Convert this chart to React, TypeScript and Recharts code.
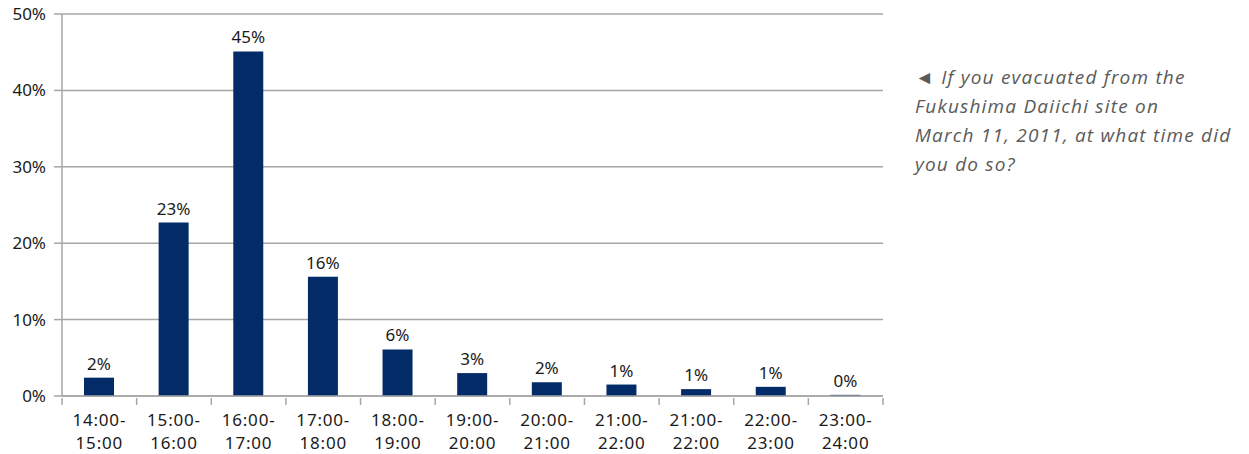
import React from 'react';
import { BarChart, Bar, XAxis, YAxis, CartesianGrid, LabelList } from 'recharts';

const categories = ['14:00-15:00', '15:00-16:00', '16:00-17:00', '17:00-18:00', '18:00-19:00', '19:00-20:00', '20:00-21:00', '21:00-22:00', '21:00-22:00', '22:00-23:00', '23:00-24:00'];
const values = [2.4, 22.7, 45.1, 15.6, 6.1, 3.0, 1.8, 1.5, 0.9, 1.2, 0.15];
const valueLabels = ['2%', '23%', '45%', '16%', '6%', '3%', '2%', '1%', '1%', '1%', '0%'];
const yTicks = [0, 10, 20, 30, 40, 50];

const data = categories.map((c, i) => ({ idx: i, cat: c, value: values[i], label: valueLabels[i] }));

const FONT = '"Noto Sans", "DejaVu Sans", sans-serif';
const GRID = '#A6A6A6';

const XTick = (props: any) => {
  const { x, y, payload, index } = props;
  const half = payload.offset || 37.3;
  const [a, b] = String(categories[payload.value] ?? '').split('-');
  const isLast = index === categories.length - 1;
  return (
    <g>
      <line x1={x - half} x2={x - half} y1={y - 8} y2={y - 1} stroke={GRID} strokeWidth={1.5} />
      {isLast && <line x1={x + half} x2={x + half} y1={y - 8} y2={y - 1} stroke={GRID} strokeWidth={1.5} />}
      <text x={x} y={y + 20} textAnchor="middle" fontFamily={FONT} fontSize={17} letterSpacing={0.8} fill="#1a1a1a">
        <tspan x={x} dy={0}>{a}-</tspan>
        <tspan x={x} dy={23}>{b}</tspan>
      </text>
    </g>
  );
};

export default function App() {
  return (
    <div style={{ position: 'absolute', left: 0, top: 0, width: 1249, height: 454, background: '#fff' }}>
      <BarChart width={900} height={454} data={data} margin={{ top: 14, right: 17, bottom: 0, left: 0 }}>
        <CartesianGrid horizontal vertical={false} stroke={GRID} strokeWidth={1.5} />
        <XAxis
          dataKey="idx"
          type="category"
          height={58}
          tickLine={false}
          axisLine={{ stroke: GRID, strokeWidth: 1.5 }}
          tick={<XTick />}
          interval={0}
          tickSize={8}
        />
        <YAxis
          width={62}
          domain={[0, 50]}
          ticks={yTicks}
          tickFormatter={(v: number) => `${v}%`}
          tickSize={8}
          tickMargin={8}
          tickLine={{ stroke: GRID, strokeWidth: 1.5 }}
          axisLine={{ stroke: GRID, strokeWidth: 1.5 }}
          tick={{ fontFamily: FONT, fontSize: 17, fill: '#1a1a1a' }}
        />
        <Bar dataKey="value" fill="#022B67" barSize={30} isAnimationActive={false}>
          <LabelList dataKey="label" position="top" offset={8} fontFamily={FONT} fontSize={17} fill="#1a1a1a" />
        </Bar>
      </BarChart>
      <div
        style={{
          position: 'absolute',
          left: 915,
          top: 63,
          fontFamily: '"Open Sans", "Noto Sans", sans-serif',
          fontStyle: 'italic',
          fontSize: 19,
          letterSpacing: 1.2,
          lineHeight: '29px',
          color: '#5a5a5a',
          whiteSpace: 'nowrap',
        }}
      >
        ◄ If you evacuated from the<br />
        Fukushima Daiichi site on<br />
        March 11, 2011, at what time did<br />
        you do so?
      </div>
    </div>
  );
}
